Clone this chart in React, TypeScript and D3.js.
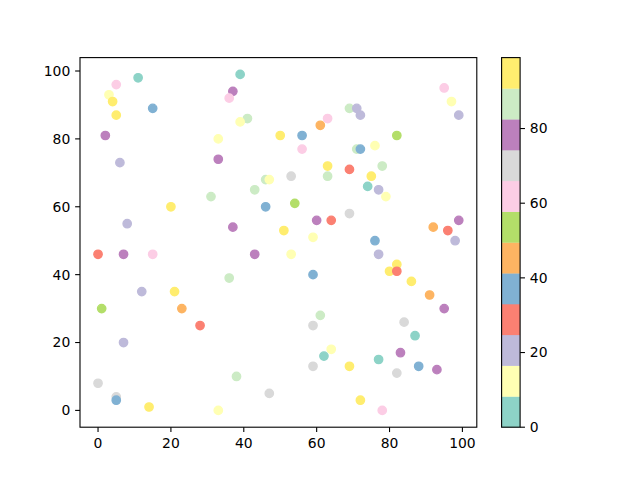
import React from "react";
import * as d3 from "d3";

const xs = [11, 5, 3, 4, 5, 15, 2, 6, 39, 37, 36, 41, 39, 33, 33, 50, 56, 61, 63, 56, 69, 71, 72, 71, 72, 76, 63, 53, 63, 69, 75, 74, 77, 78, 79, 82, 95, 97, 99, 0, 8, 7, 15, 20, 12, 21, 1, 23, 28, 31, 43, 46, 47, 46, 37, 43, 36, 54, 60, 64, 69, 51, 59, 53, 59, 76, 77, 80, 82, 82, 86, 91, 92, 96, 99, 98, 95, 84, 87, 83, 88, 93, 82, 78, 77, 72, 69, 64, 62, 59, 59, 61, 47, 38, 33, 14, 5, 5, 0, 7];
const ys = [98, 96, 93, 91, 87, 89, 81, 73, 99, 94, 92, 86, 85, 80, 74, 81, 81, 84, 86, 77, 89, 89, 87, 77, 77, 78, 72, 69, 69, 71, 69, 66, 65, 72, 63, 81, 95, 91, 87, 46, 55, 46, 46, 60, 35, 35, 30, 30, 25, 63, 65, 68, 68, 60, 54, 46, 39, 61, 56, 56, 58, 53, 51, 46, 40, 50, 46, 41, 43, 41, 38, 34, 54, 53, 56, 50, 30, 26, 22, 17, 13, 12, 11, 0, 15, 3, 13, 18, 16, 25, 13, 28, 5, 10, 0, 1, 4, 3, 8, 20];
const cs = [4, 62, 12, 95, 95, 37, 78, 20, 4, 78, 62, 86, 12, 12, 78, 95, 37, 45, 62, 62, 86, 20, 20, 86, 37, 12, 95, 70, 86, 29, 95, 4, 20, 86, 12, 53, 62, 12, 20, 29, 20, 78, 62, 95, 20, 95, 53, 45, 29, 86, 86, 86, 12, 37, 78, 78, 86, 53, 78, 29, 70, 95, 12, 12, 37, 37, 20, 95, 95, 29, 95, 45, 45, 29, 78, 20, 78, 70, 4, 78, 37, 78, 70, 62, 4, 95, 95, 12, 4, 70, 70, 86, 70, 86, 12, 95, 70, 37, 70, 20];
const xTicks = [0, 20, 40, 60, 80, 100];
const yTicks = [0, 20, 40, 60, 80, 100];
const cTicks = [0, 20, 40, 60, 80];
const palette = ["#8dd3c7", "#ffffb3", "#bebada", "#fb8072", "#80b1d3", "#fdb462", "#b3de69", "#fccde5", "#d9d9d9", "#bc80bd", "#ccebc5", "#ffed6f"];

export default function App() {
  const L = 80, R = 476.8, T = 57.6, B = 427.2;
  const x = d3.scaleLinear().domain([-4.95, 103.95]).range([L, R]);
  const y = d3.scaleLinear().domain([-4.95, 103.95]).range([B, T]);
  const cmax = 99;
  const cbL = 501.6, cbW = 18.5;
  const cy = d3.scaleLinear().domain([0, cmax]).range([B, T]);
  const colorOf = (v: number) => palette[Math.min(11, Math.floor((v / cmax) * 12))];
  const font = "DejaVu Sans, sans-serif";
  const tl = 4.86;
  const bands = d3.range(12);
  return (
    <svg width={640} height={480} style={{ position: "absolute", left: 0, top: 0 }} fontFamily={font}>
      <rect width={640} height={480} fill="#fff" />
      {xs.map((d, i) => (
        <circle key={i} cx={x(d)} cy={y(ys[i])} r={4.17} fill={colorOf(cs[i])} stroke={colorOf(cs[i])} strokeWidth={1.39} />
      ))}
      <rect x={L} y={T} width={R - L} height={B - T} fill="none" stroke="#000" strokeWidth={1.1} />
      {xTicks.map((t) => (
        <g key={"x" + t}>
          <line x1={x(t)} x2={x(t)} y1={B} y2={B + tl} stroke="#000" strokeWidth={1.1} />
          <text x={x(t)} y={B + tl + 4.9} dy="0.76em" textAnchor="middle" fontSize={13.9}>{t}</text>
        </g>
      ))}
      {yTicks.map((t) => (
        <g key={"y" + t}>
          <line x1={L - tl} x2={L} y1={y(t)} y2={y(t)} stroke="#000" strokeWidth={1.1} />
          <text x={L - tl - 4.9} y={y(t)} dy="0.35em" textAnchor="end" fontSize={13.9}>{t}</text>
        </g>
      ))}
      {bands.map((k) => (
        <rect key={"b" + k} x={cbL} width={cbW} y={cy((cmax * (k + 1)) / 12)} height={cy((cmax * k) / 12) - cy((cmax * (k + 1)) / 12) + 0.3} fill={palette[k]} />
      ))}
      <rect x={cbL} y={T} width={cbW} height={B - T} fill="none" stroke="#000" strokeWidth={1.1} />
      {cTicks.map((t) => (
        <g key={"c" + t}>
          <line x1={cbL + cbW} x2={cbL + cbW + tl} y1={cy(t)} y2={cy(t)} stroke="#000" strokeWidth={1.1} />
          <text x={cbL + cbW + tl + 4.9} y={cy(t)} dy="0.35em" textAnchor="start" fontSize={13.9}>{t}</text>
        </g>
      ))}
    </svg>
  );
}
